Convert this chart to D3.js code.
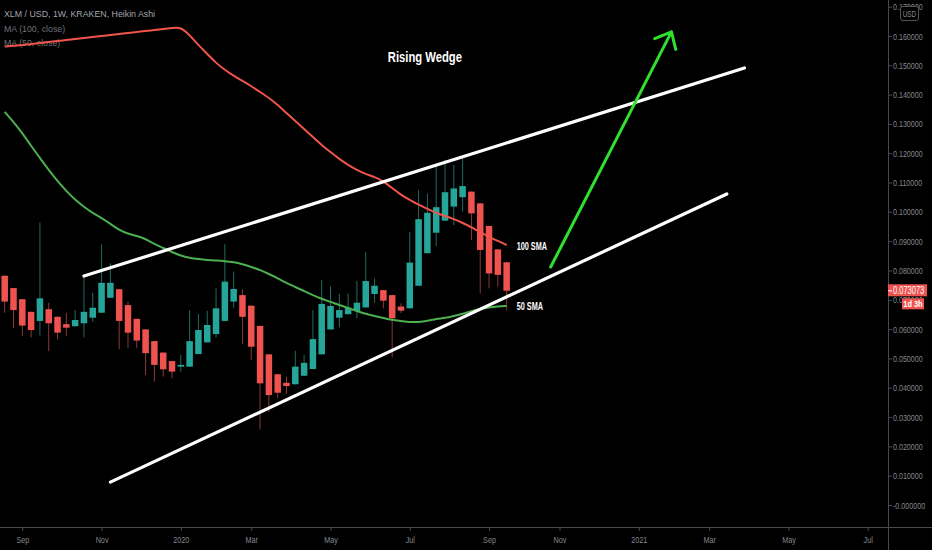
<!DOCTYPE html>
<html><head><meta charset="utf-8">
<script src="https://cdn.jsdelivr.net/npm/d3@7"></script>
<style>html,body{margin:0;padding:0;background:#000;overflow:hidden}</style>
</head><body><svg id="c" width="932" height="550"></svg>
<script>
const weeks = ["2019-08-19","2019-08-26","2019-09-02","2019-09-09","2019-09-16","2019-09-23","2019-09-30","2019-10-07","2019-10-14","2019-10-21",
"2019-10-28","2019-11-04","2019-11-11","2019-11-18","2019-11-25","2019-12-02","2019-12-09","2019-12-16","2019-12-23","2019-12-30",
"2020-01-06","2020-01-13","2020-01-20","2020-01-27","2020-02-03","2020-02-10","2020-02-17","2020-02-24","2020-03-02","2020-03-09",
"2020-03-16","2020-03-23","2020-03-30","2020-04-06","2020-04-13","2020-04-20","2020-04-27","2020-05-04","2020-05-11","2020-05-18",
"2020-05-25","2020-06-01","2020-06-08","2020-06-15","2020-06-22","2020-06-29","2020-07-06","2020-07-13","2020-07-20","2020-07-27",
"2020-08-03","2020-08-10","2020-08-17","2020-08-24","2020-08-31","2020-09-07","2020-09-14","2020-09-21"];
const open = [0.0782,0.0740,0.0702,0.0659,0.0628,0.0668,0.0642,0.0617,0.0610,0.0620,
0.0639,0.0656,0.0707,0.0736,0.0682,0.0635,0.0599,0.0559,0.0520,0.0491,
0.0472,0.0472,0.0515,0.0555,0.0583,0.0628,0.0694,0.0716,0.0680,0.0611,
0.0514,0.0446,0.0417,0.0412,0.0441,0.0464,0.0514,0.0599,0.0639,0.0651,
0.0662,0.0674,0.0720,0.0733,0.0716,0.0677,0.0671,0.0748,0.0859,0.0929,
0.0970,0.1018,0.1050,0.1069,0.1029,0.0952,0.0872,0.0828];
const close = [0.0694,0.0665,0.0612,0.0597,0.0705,0.0620,0.0588,0.0605,0.0631,0.0659,
0.0673,0.0758,0.0758,0.0628,0.0588,0.0561,0.0518,0.0478,0.0463,0.0455,
0.0478,0.0559,0.0597,0.0614,0.0671,0.0762,0.0737,0.0642,0.0540,0.0415,
0.0375,0.0383,0.0406,0.0472,0.0485,0.0566,0.0686,0.0679,0.0665,0.0673,
0.0690,0.0764,0.0748,0.0697,0.0637,0.0663,0.0827,0.0975,0.0997,0.1016,
0.1067,0.1080,0.1088,0.0995,0.0870,0.0790,0.0785,0.0731];
const high = [0.0784,0.0741,0.0703,0.0660,0.0964,0.0690,0.0643,0.0656,0.0665,0.0781,
0.0724,0.0889,0.0825,0.0737,0.0694,0.0636,0.0600,0.0560,0.0521,0.0492,
0.0512,0.0665,0.0651,0.0662,0.0739,0.0890,0.0796,0.0736,0.0681,0.0612,
0.0515,0.0447,0.0438,0.0526,0.0512,0.0665,0.0768,0.0747,0.0720,0.0722,
0.0765,0.0862,0.0773,0.0734,0.0717,0.0688,0.0932,0.1075,0.1063,0.1166,
0.1177,0.1160,0.1194,0.1070,0.1030,0.0953,0.0873,0.0829];
const low = [0.0656,0.0603,0.0577,0.0572,0.0578,0.0525,0.0565,0.0577,0.0608,0.0572,
0.0625,0.0655,0.0706,0.0531,0.0535,0.0535,0.0444,0.0421,0.0438,0.0432,
0.0455,0.0471,0.0514,0.0554,0.0572,0.0627,0.0673,0.0549,0.0495,0.0258,
0.0318,0.0364,0.0379,0.0411,0.0440,0.0463,0.0513,0.0598,0.0606,0.0650,
0.0637,0.0673,0.0690,0.0671,0.0504,0.0655,0.0670,0.0747,0.0858,0.0884,
0.0969,0.0955,0.1001,0.0904,0.0722,0.0739,0.0745,0.0665];
const ma100 = [0.1564,0.1567,0.1569,0.1573,0.1576,0.1580,0.1583,0.1586,0.1590,0.1593,
0.1597,0.1600,0.1603,0.1607,0.1610,0.1614,0.1617,0.1620,0.1624,0.1627,0.1631,
0.1603,0.1569,0.1539,0.1508,0.1484,0.1464,0.1447,0.1429,0.1409,
0.1389,0.1365,0.1337,0.1310,0.1283,0.1255,0.1228,0.1204,0.1180,0.1160,
0.1143,0.1129,0.1119,0.1105,0.1081,0.1058,0.1041,0.1024,0.1010,0.0996,
0.0986,0.0976,0.0962,0.0948,0.0931,0.0914,0.0901,0.0887];
const ma50 = [0.1341,0.1307,0.1269,0.1225,0.1184,0.1143,0.1105,0.1071,0.1041,0.1017,
0.0996,0.0979,0.0959,0.0938,0.0925,0.0918,0.0908,0.0890,0.0877,0.0863,
0.0850,0.0843,0.0839,0.0836,0.0834,0.0832,0.0829,0.0822,0.0812,0.0802,
0.0788,0.0774,0.0757,0.0744,0.0730,0.0716,0.0703,0.0693,0.0682,0.0672,
0.0662,0.0652,0.0645,0.0638,0.0631,0.0628,0.0624,0.0624,0.0628,0.0635,
0.0638,0.0645,0.0652,0.0662,0.0669,0.0674,0.0677,0.0679];
const xTickDates = ["2019-09-02","2019-11-04","2020-01-06","2020-03-02","2020-05-04","2020-07-06","2020-09-07","2020-11-02","2021-01-04","2021-03-01","2021-05-03","2021-07-05"];
const xTickLabels = ["Sep","Nov","2020","Mar","May","Jul","Sep","Nov","2021","Mar","May","Jul"];
const yTicks = [0,0.01,0.02,0.03,0.04,0.05,0.06,0.07,0.08,0.09,0.10,0.11,0.12,0.13,0.14,0.15,0.16,0.17];
const yTickLabels = ["-0.000000","0.010000","0.020000","0.030000","0.040000","0.050000","0.060000","0.070000","0.080000","0.090000","0.100000","0.110000","0.120000","0.130000","0.140000","0.150000","0.160000","0.170000"];
const wedgeUpper = [["2019-10-21",0.0781],["2021-03-29",0.1491]];
const wedgeLower = [["2019-11-11",0.0078],["2021-03-15",0.1061]];
const arrowPts = [["2020-10-26",0.0812],["2021-01-30",0.1614]];
const lastPrice = 0.073073, lastPriceLabel = "0.073073", countdown = "1d 3h";

const parse = d3.utcParse("%Y-%m-%d");
const W = 932, H = 550, plotR = 888, plotB = 527;
const x = d3.scaleUtc().domain([parse("2019-08-19"), parse("2021-07-05")]).range([4.7, 867.7]);
const y = d3.scaleLinear().domain([0, 0.16]).range([505, 36]);

const svg = d3.select("#c");
svg.append("rect").attr("width", W).attr("height", H).attr("fill", "#000");
const sans = "'Liberation Sans',Arial,sans-serif";
function condense(sel, f) {
  sel.each(function(){
    const L = this.getComputedTextLength();
    this.setAttribute("textLength", (L*f).toFixed(2));
    this.setAttribute("lengthAdjust", "spacingAndGlyphs");
  });
}

svg.append("defs").append("clipPath").attr("id","plot").append("rect").attr("x",0).attr("y",0).attr("width",plotR).attr("height",plotB);

// legend
const leg = svg.append("g").attr("font-family", sans);
leg.append("text").attr("x",4).attr("y",17).attr("font-size",8.8).attr("fill","#a3a6ad").text("XLM / USD, 1W, KRAKEN, Heikin Ashi");
leg.append("text").attr("x",4).attr("y",32).attr("font-size",8.8).attr("fill","#6f7177").text("MA (100, close)");
leg.append("text").attr("x",4).attr("y",46).attr("font-size",8.8).attr("fill","#6f7177").text("MA (50, close)");

const g = svg.append("g").attr("clip-path","url(#plot)");
const data = weeks.map((w,i)=>({d:parse(w),o:open[i],h:high[i],l:low[i],c:close[i]}));
const bw = 6.5;
const up = "#26a69a", dn = "#ef5350";
g.selectAll("line.wick").data(data).join("line")
  .attr("x1",d=>x(d.d)).attr("x2",d=>x(d.d))
  .attr("y1",d=>y(d.h)).attr("y2",d=>y(d.l))
  .attr("stroke",d=>d.c>=d.o?"#1f6b64":"#8a3a38").attr("stroke-width",1);
g.selectAll("rect.body").data(data).join("rect")
  .attr("x",d=>x(d.d)-bw/2).attr("width",bw)
  .attr("y",d=>y(Math.max(d.o,d.c)))
  .attr("height",d=>Math.max(1.5,Math.abs(y(d.o)-y(d.c))))
  .attr("fill",d=>d.c>=d.o?up:dn);

const line = d3.line().x(d=>x(d[0])).y(d=>y(d[1])).curve(d3.curveBasis);
g.append("path").datum(weeks.map((w,i)=>[parse(w),ma100[i]])).attr("d",line)
  .attr("fill","none").attr("stroke","#f0544a").attr("stroke-width",2);
g.append("path").datum(weeks.map((w,i)=>[parse(w),ma50[i]])).attr("d",line)
  .attr("fill","none").attr("stroke","#4caf50").attr("stroke-width",2);

const straight = d3.line().x(d=>x(parse(d[0]))).y(d=>y(d[1]));
g.append("path").datum(wedgeUpper).attr("d",straight).attr("stroke","#fff").attr("stroke-width",3.2).attr("stroke-linecap","round");
g.append("path").datum(wedgeLower).attr("d",straight).attr("stroke","#fff").attr("stroke-width",3.2).attr("stroke-linecap","round");

// arrow
const ax0 = x(parse(arrowPts[0][0])), ay0 = y(arrowPts[0][1]);
const ax1 = x(parse(arrowPts[1][0])), ay1 = y(arrowPts[1][1]);
const ang = Math.atan2(ay0-ay1, ax0-ax1), al = 18, spread = 41*Math.PI/180;
g.append("path").attr("d", `M${ax0},${ay0}L${ax1},${ay1}M${ax1+al*Math.cos(ang+spread)},${ay1+al*Math.sin(ang+spread)}L${ax1},${ay1}L${ax1+al*Math.cos(ang-spread)},${ay1+al*Math.sin(ang-spread)}`)
  .attr("fill","none").attr("stroke","#2fe02f").attr("stroke-width",3).attr("stroke-linecap","round").attr("stroke-linejoin","round");

// annotations
const last = data[data.length-1].d;
const ann = svg.append("g").attr("font-family",sans).attr("font-weight","bold").attr("fill","#fff");
condense(ann.append("text").attr("x",x(parse("2020-07-18"))).attr("y",y(0.1510)).attr("text-anchor","middle")
  .attr("font-size",15).text("Rising Wedge"), 0.75);
condense(ann.append("text").attr("x",x(last)+10).attr("y",y(ma100[ma100.length-1])+5)
  .attr("font-size",10).text("100 SMA"), 0.73);
condense(ann.append("text").attr("x",x(last)+10).attr("y",y(ma50[ma50.length-1])+4.5)
  .attr("font-size",10).text("50 SMA"), 0.73);

// axes
const axisColor = "#4a4a4a", textColor = "#85878c";
const yAxis = svg.append("g").attr("transform",`translate(${plotR},0)`)
  .call(d3.axisRight(y).tickValues(yTicks).tickFormat((d,i)=>yTickLabels[i]).tickSize(4).tickPadding(1).tickSizeOuter(0));
yAxis.select(".domain").remove();
yAxis.selectAll("line").attr("stroke",axisColor);
yAxis.selectAll("text").attr("fill",textColor).attr("font-family",sans).attr("font-size",9.5);
condense(yAxis.selectAll("text"), 0.75);
svg.append("line").attr("x1",plotR+0.5).attr("x2",plotR+0.5).attr("y1",0).attr("y2",H).attr("stroke",axisColor);

const xAxis = svg.append("g").attr("transform",`translate(0,${plotB})`)
  .call(d3.axisBottom(x).tickValues(xTickDates.map(parse)).tickFormat((d,i)=>xTickLabels[i]).tickSize(4).tickPadding(5).tickSizeOuter(0));
xAxis.select(".domain").remove();
xAxis.selectAll("line").attr("stroke",axisColor);
xAxis.selectAll("text").attr("fill",textColor).attr("font-family",sans).attr("font-size",9.5);
condense(xAxis.selectAll("text"), 0.76);
svg.append("line").attr("x1",0).attr("x2",W).attr("y1",plotB+0.5).attr("y2",plotB+0.5).attr("stroke",axisColor);

// USD box
svg.append("rect").attr("x",900.5).attr("y",6.5).attr("width",18).attr("height",14).attr("rx",2.5)
  .attr("fill","#000").attr("stroke","#555");
condense(svg.append("text").attr("x",909.5).attr("y",16.5).attr("text-anchor","middle").attr("font-family",sans).attr("font-size",8.5).attr("fill","#85878c").text("USD"), 0.75);

// last price labels
const ly = y(lastPrice);
svg.append("rect").attr("x",plotR).attr("y",ly-6.5).attr("width",39).attr("height",12).attr("fill","#ef5350");
svg.append("line").attr("x1",plotR).attr("x2",plotR+4).attr("y1",ly).attr("y2",ly).attr("stroke","#fff");
condense(svg.append("text").attr("x",plotR+5).attr("y",ly+3.5).attr("font-family",sans).attr("font-size",10).attr("fill","#fff").text(lastPriceLabel), 0.75);
svg.append("rect").attr("x",902).attr("y",ly+7.5).attr("width",22).attr("height",11).attr("fill","#ef5350");
condense(svg.append("text").attr("x",913).attr("y",ly+16).attr("text-anchor","middle").attr("font-family",sans).attr("font-weight","bold").attr("font-size",9).attr("fill","#fff").text(countdown), 0.82);
</script></body></html>
